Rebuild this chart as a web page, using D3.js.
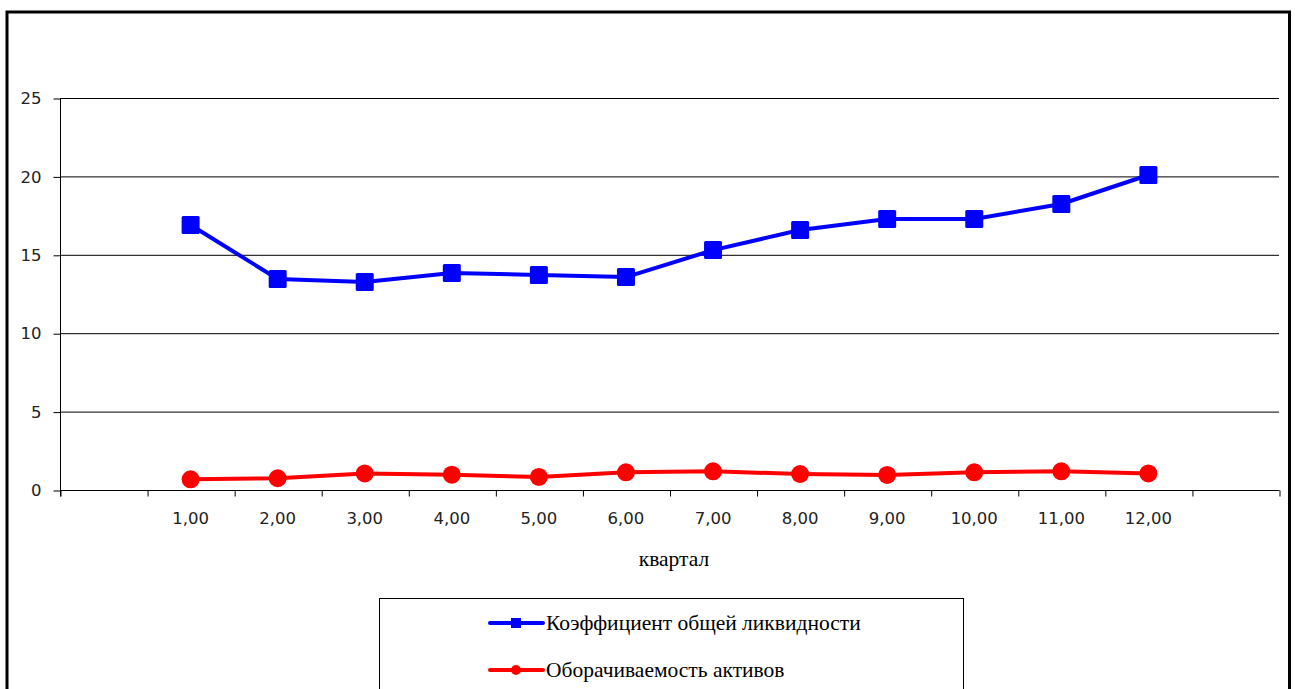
<!DOCTYPE html>
<html>
<head>
<meta charset="utf-8">
<script src="https://cdn.jsdelivr.net/npm/d3@7"></script>
<style>
  html, body { margin: 0; padding: 0; background: #fff; }
  svg { display: block; }
</style>
</head>
<body>
<svg id="chart" width="1295" height="689"></svg>
<script>
// Quarters 1..12
const quarters = [1, 2, 3, 4, 5, 6, 7, 8, 9, 10, 11, 12];
// Коэффициент общей ликвидности
const liquidity = [16.9, 13.46, 13.27, 13.84, 13.71, 13.58, 15.3, 16.58, 17.28, 17.28, 18.24, 20.09];
// Оборачиваемость активов
const turnover = [0.68, 0.75, 1.06, 0.98, 0.83, 1.13, 1.19, 1.02, 0.96, 1.13, 1.19, 1.06];
const yTicks = [0, 5, 10, 15, 20, 25];
const seriesNames = ["Коэффициент общей ликвидности", "Оборачиваемость активов"];
const xTitle = "квартал";

(function () {
const svg = d3.select("#chart");
const W = 1295, H = 689;
const plotL = 60, plotR = 1279, plotT = 98, plotB = 490;
const sans = "DejaVu Sans, Verdana, sans-serif";
const serif = "Liberation Serif, Times New Roman, serif";

// outer frame (bottom edge runs off the page)
svg.append("path")
  .attr("d", `M7,${H + 5} V12 H1289.5 V${H + 5}`)
  .attr("fill", "none").attr("stroke", "#000").attr("stroke-width", 3);

// slots: an empty slot on each side of the 12 quarters
const x = d3.scaleLinear().domain([-0.5, 13.5]).range([plotL, plotR]);
const y = d3.scaleLinear().domain([0, 25]).range([plotB, plotT]);

// horizontal gridlines
svg.append("g").selectAll("line").data(yTicks.filter(d => d > 0)).join("line")
  .attr("x1", plotL).attr("x2", plotR)
  .attr("y1", d => y(d) + 0.5).attr("y2", d => y(d) + 0.5)
  .attr("stroke", "#000").attr("stroke-width", 1);

// y axis
const yAxis = svg.append("g").attr("transform", `translate(${plotL + 0.5},0.5)`)
  .call(d3.axisLeft(y).tickValues(yTicks).tickSize(7).tickPadding(12).tickFormat(d3.format("d")));
yAxis.select(".domain").attr("d", `M0,${y(25)}V${y(0) + 6}`).attr("stroke", "#000");
yAxis.selectAll(".tick line").attr("stroke", "#000");
yAxis.selectAll("text")
  .attr("font-family", sans).attr("font-size", 16.5).attr("fill", "#222");

// x axis: ticks at slot boundaries
const bounds = d3.range(-0.5, 13.51, 1);
const xAxis = svg.append("g").attr("transform", `translate(0.5,${plotB + 0.5})`)
  .call(d3.axisBottom(x).tickValues(bounds).tickSize(6).tickFormat(""));
xAxis.select(".domain").attr("d", `M${plotL},0H${plotR}`).attr("stroke", "#000");
xAxis.selectAll(".tick line").attr("stroke", "#000");

// quarter labels
const fmt = v => d3.format(".2f")(v).replace(".", ",");
svg.append("g").selectAll("text").data(quarters).join("text")
  .attr("x", d => x(d)).attr("y", 524)
  .attr("text-anchor", "middle")
  .attr("font-family", sans).attr("font-size", 16.5).attr("fill", "#222")
  .text(fmt);

svg.append("text")
  .attr("x", 674).attr("y", 566).attr("text-anchor", "middle")
  .attr("font-family", serif).attr("font-size", 21.5)
  .text(xTitle);

const line = d3.line().x((d, i) => x(quarters[i])).y(d => y(d));

// liquidity series
svg.append("path").datum(liquidity).attr("d", line)
  .attr("fill", "none").attr("stroke", "#0000ff").attr("stroke-width", 4)
  .attr("stroke-linejoin", "round");
svg.append("g").selectAll("rect").data(liquidity).join("rect")
  .attr("x", (d, i) => x(quarters[i]) - 9).attr("y", d => y(d) - 9)
  .attr("width", 18).attr("height", 18).attr("rx", 1.5)
  .attr("fill", "#0000ff");

// turnover series
svg.append("path").datum(turnover).attr("d", line)
  .attr("fill", "none").attr("stroke", "#ff0000").attr("stroke-width", 4)
  .attr("stroke-linejoin", "round");
svg.append("g").selectAll("circle").data(turnover).join("circle")
  .attr("cx", (d, i) => x(quarters[i])).attr("cy", d => y(d))
  .attr("r", 9).attr("fill", "#ff0000");

// legend
const lg = svg.append("g");
lg.append("rect").attr("x", 379.5).attr("y", 598.5).attr("width", 584).attr("height", 120)
  .attr("fill", "#fff").attr("stroke", "#000").attr("stroke-width", 1);
const items = [
  { name: seriesNames[0], color: "#0000ff", shape: "square", yy: 623 },
  { name: seriesNames[1], color: "#ff0000", shape: "circle", yy: 670 }
];
items.forEach(it => {
  lg.append("line").attr("x1", 490).attr("x2", 543).attr("y1", it.yy).attr("y2", it.yy)
    .attr("stroke", it.color).attr("stroke-width", 4).attr("stroke-linecap", "round");
  if (it.shape === "square") {
    lg.append("rect").attr("x", 511).attr("y", it.yy - 5).attr("width", 10).attr("height", 10)
      .attr("fill", it.color);
  } else {
    lg.append("circle").attr("cx", 516).attr("cy", it.yy).attr("r", 5).attr("fill", it.color);
  }
  lg.append("text").attr("x", 546).attr("y", it.yy + 7)
    .attr("font-family", serif).attr("font-size", 21.5)
    .text(it.name);
});
})();
</script>
</body>
</html>
